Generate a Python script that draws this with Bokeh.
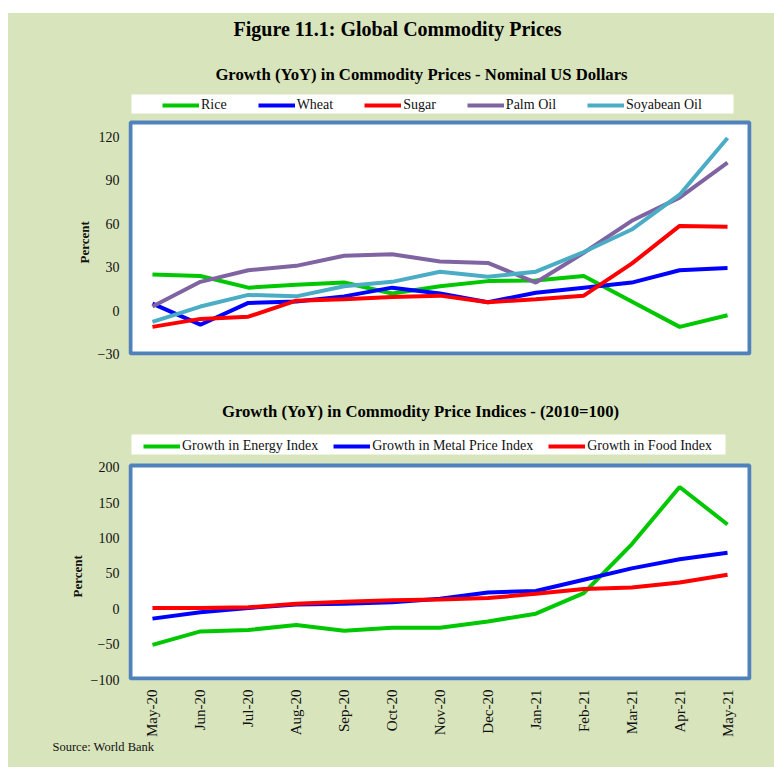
from math import pi
from bokeh.plotting import figure
from bokeh.models import (FactorRange, Range1d, FixedTicker, Legend, LegendItem,
                          Label, BoxAnnotation, Spacer, Title)
from bokeh.layouts import column, row
from bokeh.embed import file_html
from bokeh.resources import INLINE

# ---------------- data ----------------
months = ["May-20", "Jun-20", "Jul-20", "Aug-20", "Sep-20", "Oct-20", "Nov-20",
          "Dec-20", "Jan-21", "Feb-21", "Mar-21", "Apr-21", "May-21"]

rice = [25, 24, 16, 18, 19.5, 12, 17, 20.5, 21, 24, 6.5, -11, -3]
wheat = [5, -9.5, 5.5, 6.5, 10, 16, 12, 6, 12.5, 16, 19.5, 28, 29.5]
sugar = [-11, -5.5, -4, 7, 8, 9.5, 10.5, 6, 8, 10.5, 32.5, 58.5, 58]
palm_oil = [3, 20, 28, 31, 38, 39, 34, 33, 19.5, 40, 62, 78, 102]
soyabean_oil = [-7.5, 3, 11, 10, 17, 20, 27, 23.5, 27, 40.5, 56, 80, 119]

energy = [-51, -32, -30, -23, -31, -27, -27, -18, -7, 22, 91, 172, 119]
metal = [-14, -5, 1, 6, 7, 9, 14, 23, 25, 41, 57, 70, 79]
food = [1, 1, 2, 7, 10, 12, 13, 15, 21, 28, 30, 37, 48]

top_ticks = [-30, 0, 30, 60, 90, 120]
bottom_ticks = [-100, -50, 0, 50, 100, 150, 200]

# ---------------- styles ----------------
BG = "#d8e4bc"
FRAME = "#4f81bd"
GREEN = "#00c800"
BLUE = "#0000ff"
RED = "#ff0000"
PURPLE = "#8064a2"
TEAL = "#4bacc6"
SERIF = "Liberation Serif"
LW = 4


def base_fig(frame_h, bottom, y0, y1, ticks, box_top):
    p = figure(x_range=FactorRange(*months), y_range=Range1d(y0, y1),
               frame_width=623, frame_height=frame_h,
               min_border_left=120, min_border_right=23,
               min_border_top=0, min_border_bottom=bottom,
               output_backend="svg", toolbar_location=None)
    p.background_fill_color = BG
    p.border_fill_color = BG
    p.outline_line_color = None
    p.xgrid.visible = False
    p.ygrid.visible = False
    for ax in (p.xaxis[0], p.yaxis[0]):
        ax.axis_line_color = None
        ax.major_tick_line_color = None
        ax.minor_tick_line_color = None
        ax.major_tick_in = 0
        ax.major_tick_out = 0
        ax.minor_tick_in = 0
        ax.minor_tick_out = 0
        ax.major_label_text_font = SERIF
        ax.major_label_text_font_size = "14px"
        ax.major_label_text_color = "#111111"
    p.yaxis.ticker = FixedTicker(ticks=ticks)
    p.yaxis.major_label_standoff = 9
    # white plot box with blue border
    p.add_layout(BoxAnnotation(left=2, right=621, bottom=2, top=box_top,
                               left_units="screen", right_units="screen",
                               bottom_units="screen", top_units="screen",
                               fill_color="white", fill_alpha=1,
                               line_color=FRAME, line_width=4, line_alpha=1,
                               level="underlay"))
    return p


def add_legend(p, items, strip, vx, vy, spacing):
    l, r, b, t = strip
    p.add_layout(BoxAnnotation(left=l, right=r, bottom=b, top=t,
                               left_units="screen", right_units="screen",
                               bottom_units="screen", top_units="screen",
                               fill_color="white", fill_alpha=1, line_color=None,
                               level="underlay"))
    lg = Legend(items=items, orientation="horizontal", location=(vx, vy),
                glyph_width=37, glyph_height=14, label_height=14,
                label_standoff=2, spacing=spacing, padding=3, margin=0,
                label_text_font=SERIF, label_text_font_size="14px",
                label_text_color="#111111",
                background_fill_alpha=0, border_line_color=None)
    p.add_layout(lg, "center")


def add_percent(p, offset):
    p.add_layout(Title(text="Percent", align="left", offset=offset,
                       text_font=SERIF, text_font_style="bold",
                       text_font_size="13px", text_color="#111111",
                       standoff=6), "left")


# ---------------- top chart ----------------
p1 = base_fig(342, 35, -30.7, 204.7, top_ticks, 233)
p1.xaxis.visible = False

r_rice = p1.line(months, rice, line_color=GREEN, line_width=LW)
r_wheat = p1.line(months, wheat, line_color=BLUE, line_width=LW)
r_sugar = p1.line(months, sugar, line_color=RED, line_width=LW)
r_palm = p1.line(months, palm_oil, line_color=PURPLE, line_width=LW)
r_soy = p1.line(months, soyabean_oil, line_color=TEAL, line_width=LW)

add_legend(p1, [LegendItem(label="Rice", renderers=[r_rice]),
                LegendItem(label="Wheat", renderers=[r_wheat]),
                LegendItem(label="Sugar", renderers=[r_sugar]),
                LegendItem(label="Palm Oil", renderers=[r_palm]),
                LegendItem(label="Soyabean Oil", renderers=[r_soy])],
           (3, 605, 242, 261), 34, 242, 31)

p1.add_layout(Label(x=269, y=327, x_units="screen", y_units="screen",
                    text="Figure 11.1: Global Commodity Prices",
                    text_align="center", text_baseline="middle",
                    text_font=SERIF, text_font_style="bold",
                    text_font_size="20px", text_color="#000000"))
p1.add_layout(Label(x=293, y=281, x_units="screen", y_units="screen",
                    text="Growth (YoY) in Commodity Prices - Nominal US Dollars",
                    text_align="center", text_baseline="middle",
                    text_font=SERIF, text_font_style="bold",
                    text_font_size="16.7px", text_color="#000000"))
add_percent(p1, 92)

# ---------------- bottom chart ----------------
p2 = base_fig(290, 87, -101.4, 308.3, bottom_ticks, 215)
p2.xaxis.major_label_orientation = pi / 2
p2.xaxis.major_label_standoff = 9
p2.xaxis.major_label_text_font_size = "15px"

r_energy = p2.line(months, energy, line_color=GREEN, line_width=LW)
r_metal = p2.line(months, metal, line_color=BLUE, line_width=LW)
r_food = p2.line(months, food, line_color=RED, line_width=LW)

add_legend(p2, [LegendItem(label="Growth in Energy Index", renderers=[r_energy]),
                LegendItem(label="Growth in Metal Price Index", renderers=[r_metal]),
                LegendItem(label="Growth in Food Index", renderers=[r_food])],
           (3, 597, 226, 246), 15, 226, 15)

p2.add_layout(Label(x=292, y=269, x_units="screen", y_units="screen",
                    text="Growth (YoY) in Commodity Price Indices - (2010=100)",
                    text_align="center", text_baseline="middle",
                    text_font=SERIF, text_font_style="bold",
                    text_font_size="16.7px", text_color="#000000"))
add_percent(p2, 83)
p2.add_layout(Title(text="Source: World Bank", align="left", offset=-76,
                    vertical_align="top",
                    text_font=SERIF, text_font_style="normal",
                    text_font_size="12.5px", text_color="#111111",
                    standoff=0), "below")

charts = column(p1, p2, spacing=0, styles={"background-color": BG})
layout = column(Spacer(width=774, height=13),
                row(Spacer(width=8, height=754), charts, spacing=0),
                spacing=0)

open("out.html", "w").write(file_html(layout, INLINE))
